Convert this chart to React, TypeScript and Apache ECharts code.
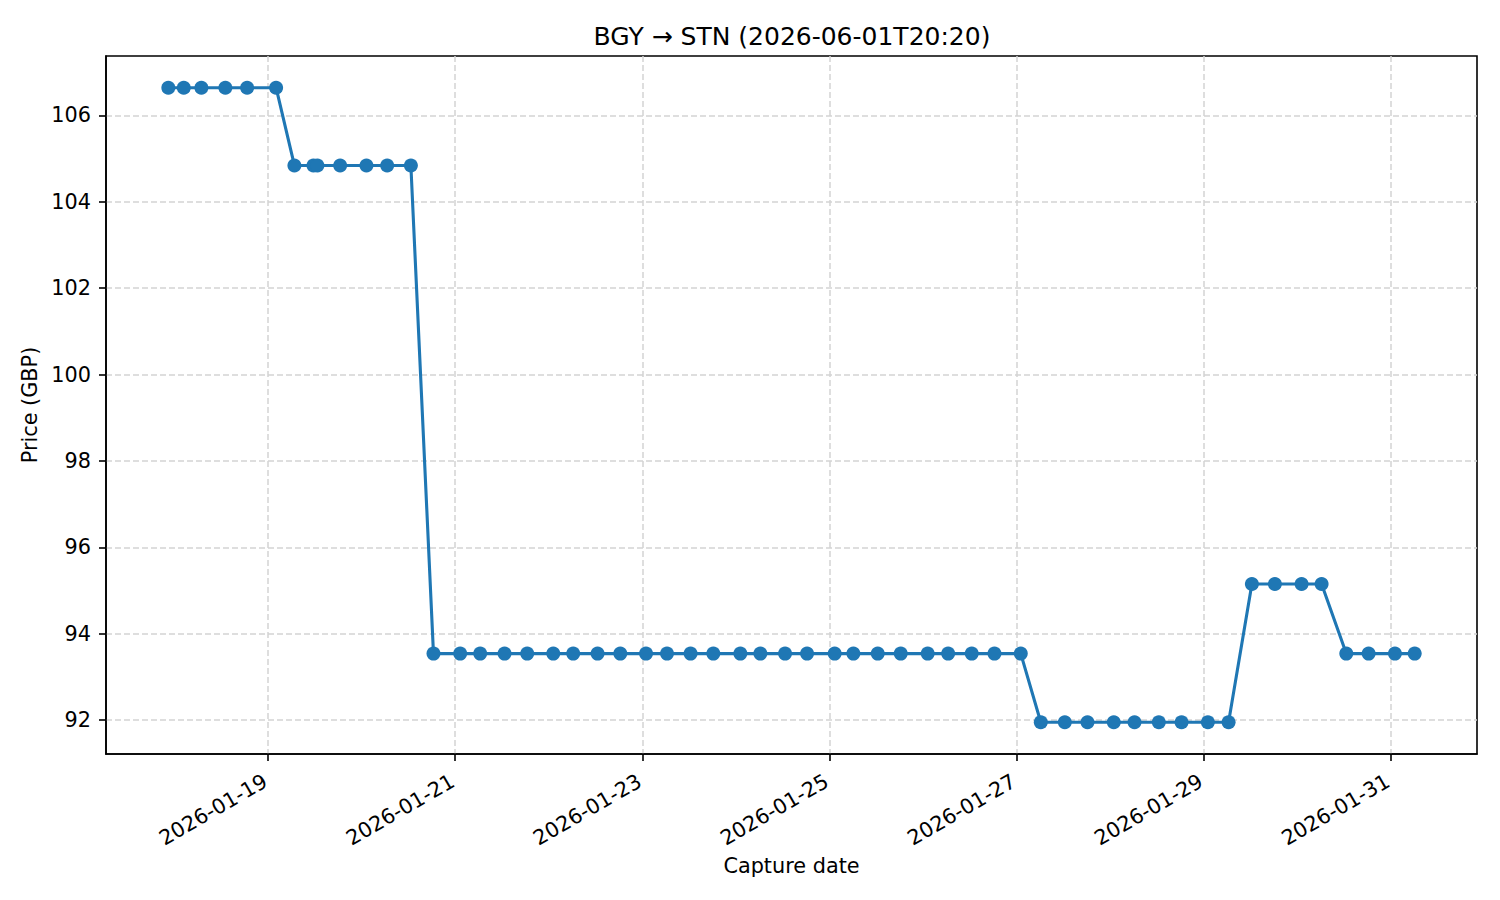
import { useEffect, useRef } from "react";
import * as echarts from "echarts";

// capture times (local time)
const captureTimes = [
  "2026-01-17 22:24", "2026-01-18 02:22", "2026-01-18 06:53", "2026-01-18 13:02",
  "2026-01-18 18:37", "2026-01-19 02:03", "2026-01-19 06:45", "2026-01-19 11:38",
  "2026-01-19 12:39", "2026-01-19 18:29", "2026-01-20 01:14", "2026-01-20 06:33",
  "2026-01-20 12:38", "2026-01-20 18:26", "2026-01-21 01:17", "2026-01-21 06:25",
  "2026-01-21 12:40", "2026-01-21 18:29", "2026-01-22 01:10", "2026-01-22 06:17",
  "2026-01-22 12:32", "2026-01-22 18:22", "2026-01-23 00:58", "2026-01-23 06:21",
  "2026-01-23 12:24", "2026-01-23 18:14", "2026-01-24 01:10", "2026-01-24 06:18",
  "2026-01-24 12:38", "2026-01-24 18:17", "2026-01-25 01:22", "2026-01-25 06:10",
  "2026-01-25 12:25", "2026-01-25 18:19", "2026-01-26 01:14", "2026-01-26 06:29",
  "2026-01-26 12:32", "2026-01-26 18:22", "2026-01-27 01:07", "2026-01-27 06:15",
  "2026-01-27 12:25", "2026-01-27 18:14", "2026-01-28 00:59", "2026-01-28 06:18",
  "2026-01-28 12:32", "2026-01-28 18:22", "2026-01-29 01:07", "2026-01-29 06:26",
  "2026-01-29 12:25", "2026-01-29 18:19", "2026-01-30 01:10", "2026-01-30 06:18",
  "2026-01-30 12:38", "2026-01-30 18:22", "2026-01-31 01:07", "2026-01-31 06:11",
];

const prices = [
  106.64, 106.64, 106.64, 106.64, 106.64, 106.64,
  104.84, 104.84, 104.84, 104.84, 104.84, 104.84, 104.84,
  93.54, 93.54, 93.54, 93.54, 93.54, 93.54, 93.54, 93.54, 93.54, 93.54,
  93.54, 93.54, 93.54, 93.54, 93.54, 93.54, 93.54, 93.54, 93.54, 93.54,
  93.54, 93.54, 93.54, 93.54, 93.54, 93.54,
  91.95, 91.95, 91.95, 91.95, 91.95, 91.95, 91.95, 91.95, 91.95,
  95.15, 95.15, 95.15, 95.15,
  93.54, 93.54, 93.54, 93.54,
];

const xTickLabels = [
  "2026-01-19", "2026-01-21", "2026-01-23", "2026-01-25",
  "2026-01-27", "2026-01-29", "2026-01-31",
];
const yTickValues = [92, 94, 96, 98, 100, 102, 104, 106];

const title = "BGY → STN (2026-06-01T20:20)";
const font = "DejaVu Sans";

export default function App() {
  const chartRef = useRef<HTMLDivElement | null>(null);

  useEffect(() => {
    if (!chartRef.current) {
      return;
    }
    const chart = echarts.init(chartRef.current, null, { renderer: "svg" });

    const times = captureTimes.map((t) => +echarts.time.parse(t));
    // matplotlib-style 5% margins
    const tMin = Math.min(...times);
    const tMax = Math.max(...times);
    const pMin = Math.min(...prices);
    const pMax = Math.max(...prices);
    const tPad = (tMax - tMin) * 0.05;
    const pPad = (pMax - pMin) * 0.05;
    const xTicks = xTickLabels.map((d) => +echarts.time.parse(d));

    const grid = { color: "#d4d4d4", width: 1.5, type: [6, 3] };
    const axisInk = { color: "#000", width: 1.6 };

    chart.setOption({
      animation: false,
      textStyle: { fontFamily: font },
      title: {
        text: title,
        left: 787,
        top: 19,
        textAlign: "center",
        textStyle: { fontFamily: font, fontSize: 25, fontWeight: "normal", color: "#000" },
      },
      grid: {
        left: 106,
        right: 23,
        top: 56,
        bottom: 146,
        show: true,
        borderColor: "#000",
        borderWidth: 1.6,
        outerBoundsMode: "none",
      },
      xAxis: {
        type: "value",
        min: tMin - tPad,
        max: tMax + tPad,
        name: "Capture date",
        nameLocation: "middle",
        nameGap: 100,
        nameTextStyle: { fontFamily: font, fontSize: 20.8, color: "#000" },
        axisLine: { show: true, onZero: false, lineStyle: axisInk },
        axisTick: { show: true, length: 7, customValues: xTicks, lineStyle: axisInk },
        axisLabel: {
          customValues: xTicks,
          rotate: 30,
          margin: 24,
          padding: [0, 3, 0, 0],
          fontFamily: font,
          fontSize: 20.8,
          color: "#000",
          formatter: (v: number) => echarts.time.format(v, "{yyyy}-{MM}-{dd}", false),
        },
        splitLine: { show: true, lineStyle: grid },
      },
      yAxis: {
        type: "value",
        min: pMin - pPad,
        max: pMax + pPad,
        name: "Price (GBP)",
        nameLocation: "middle",
        nameGap: 56,
        nameTextStyle: { fontFamily: font, fontSize: 20.8, color: "#000" },
        axisLine: { show: true, onZero: false, lineStyle: axisInk },
        axisTick: { show: true, length: 7, customValues: yTickValues, lineStyle: axisInk },
        axisLabel: {
          customValues: yTickValues,
          margin: 15,
          fontFamily: font,
          fontSize: 20.8,
          color: "#000",
        },
        splitLine: { show: true, lineStyle: grid },
      },
      series: [
        {
          type: "line",
          data: times.map((t, i) => [t, prices[i]]),
          symbol: "circle",
          symbolSize: 14,
          showAllSymbol: true,
          color: "#1f77b4",
          lineStyle: { color: "#1f77b4", width: 3.1 },
          itemStyle: { color: "#1f77b4" },
        },
      ],
    });

    return () => {
      chart.dispose();
    };
  }, []);

  return (
    <div
      ref={chartRef}
      style={{ position: "fixed", left: 0, top: 0, width: 1500, height: 900, background: "#fff" }}
    />
  );
}
